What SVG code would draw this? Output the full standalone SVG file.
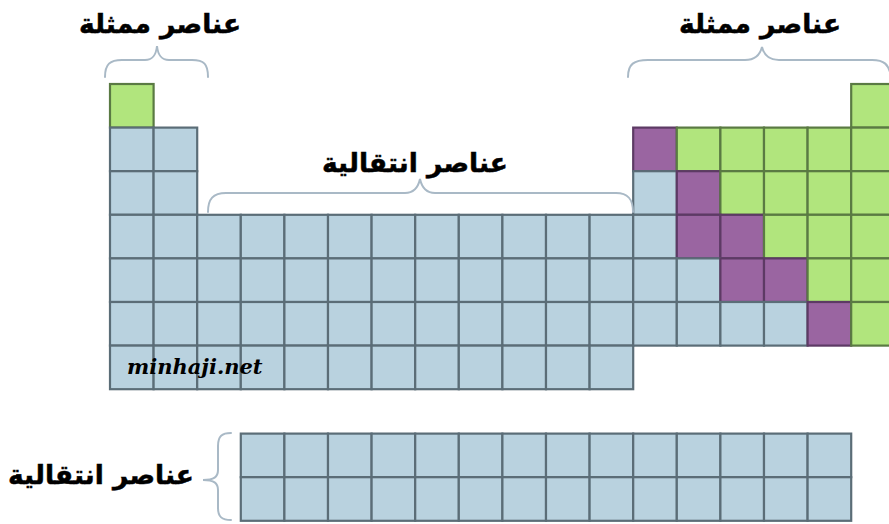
<svg xmlns="http://www.w3.org/2000/svg" width="889" height="524" viewBox="0 0 889 524">
<style>
.b{fill:#b9d2df;stroke:#5b6d77;stroke-width:2.2}
.g{fill:#b1e57d;stroke:#5a7a43;stroke-width:2.2}
.p{fill:#9a65a1;stroke:#5d3a64;stroke-width:2.2}
.br{fill:none;stroke:#a9b9c6;stroke-width:2;stroke-linecap:round}
.ar{font-family:"DejaVu Sans",sans-serif;font-weight:bold;font-size:26.5px;fill:#000;stroke:#000;stroke-width:0.5;text-anchor:middle}
.wm{font-family:"DejaVu Serif",serif;font-style:italic;font-weight:bold;font-size:21px;fill:#000}
</style>
<rect width="889" height="524" fill="#fff"/>
<g id="s-block">
<rect class="g" x="110" y="84" width="43.6" height="43.6"/>
<rect class="b" x="110" y="127.6" width="43.6" height="43.6"/><rect class="b" x="153.6" y="127.6" width="43.6" height="43.6"/>
<rect class="b" x="110" y="171.2" width="43.6" height="43.6"/><rect class="b" x="153.6" y="171.2" width="43.6" height="43.6"/>
<rect class="b" x="110" y="214.8" width="43.6" height="43.6"/><rect class="b" x="153.6" y="214.8" width="43.6" height="43.6"/>
<rect class="b" x="110" y="258.4" width="43.6" height="43.6"/><rect class="b" x="153.6" y="258.4" width="43.6" height="43.6"/>
<rect class="b" x="110" y="302" width="43.6" height="43.6"/><rect class="b" x="153.6" y="302" width="43.6" height="43.6"/>
<rect class="b" x="110" y="345.6" width="43.6" height="43.6"/><rect class="b" x="153.6" y="345.6" width="43.6" height="43.6"/>
</g>
<g id="d-block">
<rect class="b" x="197.2" y="214.8" width="43.6" height="43.6"/><rect class="b" x="240.8" y="214.8" width="43.6" height="43.6"/><rect class="b" x="284.4" y="214.8" width="43.6" height="43.6"/><rect class="b" x="328" y="214.8" width="43.6" height="43.6"/><rect class="b" x="371.6" y="214.8" width="43.6" height="43.6"/><rect class="b" x="415.2" y="214.8" width="43.6" height="43.6"/><rect class="b" x="458.8" y="214.8" width="43.6" height="43.6"/><rect class="b" x="502.4" y="214.8" width="43.6" height="43.6"/><rect class="b" x="546" y="214.8" width="43.6" height="43.6"/><rect class="b" x="589.6" y="214.8" width="43.6" height="43.6"/>
<rect class="b" x="197.2" y="258.4" width="43.6" height="43.6"/><rect class="b" x="240.8" y="258.4" width="43.6" height="43.6"/><rect class="b" x="284.4" y="258.4" width="43.6" height="43.6"/><rect class="b" x="328" y="258.4" width="43.6" height="43.6"/><rect class="b" x="371.6" y="258.4" width="43.6" height="43.6"/><rect class="b" x="415.2" y="258.4" width="43.6" height="43.6"/><rect class="b" x="458.8" y="258.4" width="43.6" height="43.6"/><rect class="b" x="502.4" y="258.4" width="43.6" height="43.6"/><rect class="b" x="546" y="258.4" width="43.6" height="43.6"/><rect class="b" x="589.6" y="258.4" width="43.6" height="43.6"/>
<rect class="b" x="197.2" y="302" width="43.6" height="43.6"/><rect class="b" x="240.8" y="302" width="43.6" height="43.6"/><rect class="b" x="284.4" y="302" width="43.6" height="43.6"/><rect class="b" x="328" y="302" width="43.6" height="43.6"/><rect class="b" x="371.6" y="302" width="43.6" height="43.6"/><rect class="b" x="415.2" y="302" width="43.6" height="43.6"/><rect class="b" x="458.8" y="302" width="43.6" height="43.6"/><rect class="b" x="502.4" y="302" width="43.6" height="43.6"/><rect class="b" x="546" y="302" width="43.6" height="43.6"/><rect class="b" x="589.6" y="302" width="43.6" height="43.6"/>
<rect class="b" x="197.2" y="345.6" width="43.6" height="43.6"/><rect class="b" x="240.8" y="345.6" width="43.6" height="43.6"/><rect class="b" x="284.4" y="345.6" width="43.6" height="43.6"/><rect class="b" x="328" y="345.6" width="43.6" height="43.6"/><rect class="b" x="371.6" y="345.6" width="43.6" height="43.6"/><rect class="b" x="415.2" y="345.6" width="43.6" height="43.6"/><rect class="b" x="458.8" y="345.6" width="43.6" height="43.6"/><rect class="b" x="502.4" y="345.6" width="43.6" height="43.6"/><rect class="b" x="546" y="345.6" width="43.6" height="43.6"/><rect class="b" x="589.6" y="345.6" width="43.6" height="43.6"/>
</g>
<g id="p-block">
<rect class="g" x="851.2" y="84" width="43.6" height="43.6"/>
<rect class="p" x="633.2" y="127.6" width="43.6" height="43.6"/><rect class="g" x="676.8" y="127.6" width="43.6" height="43.6"/><rect class="g" x="720.4" y="127.6" width="43.6" height="43.6"/><rect class="g" x="764" y="127.6" width="43.6" height="43.6"/><rect class="g" x="807.6" y="127.6" width="43.6" height="43.6"/><rect class="g" x="851.2" y="127.6" width="43.6" height="43.6"/>
<rect class="b" x="633.2" y="171.2" width="43.6" height="43.6"/><rect class="p" x="676.8" y="171.2" width="43.6" height="43.6"/><rect class="g" x="720.4" y="171.2" width="43.6" height="43.6"/><rect class="g" x="764" y="171.2" width="43.6" height="43.6"/><rect class="g" x="807.6" y="171.2" width="43.6" height="43.6"/><rect class="g" x="851.2" y="171.2" width="43.6" height="43.6"/>
<rect class="b" x="633.2" y="214.8" width="43.6" height="43.6"/><rect class="p" x="676.8" y="214.8" width="43.6" height="43.6"/><rect class="p" x="720.4" y="214.8" width="43.6" height="43.6"/><rect class="g" x="764" y="214.8" width="43.6" height="43.6"/><rect class="g" x="807.6" y="214.8" width="43.6" height="43.6"/><rect class="g" x="851.2" y="214.8" width="43.6" height="43.6"/>
<rect class="b" x="633.2" y="258.4" width="43.6" height="43.6"/><rect class="b" x="676.8" y="258.4" width="43.6" height="43.6"/><rect class="p" x="720.4" y="258.4" width="43.6" height="43.6"/><rect class="p" x="764" y="258.4" width="43.6" height="43.6"/><rect class="g" x="807.6" y="258.4" width="43.6" height="43.6"/><rect class="g" x="851.2" y="258.4" width="43.6" height="43.6"/>
<rect class="b" x="633.2" y="302" width="43.6" height="43.6"/><rect class="b" x="676.8" y="302" width="43.6" height="43.6"/><rect class="b" x="720.4" y="302" width="43.6" height="43.6"/><rect class="b" x="764" y="302" width="43.6" height="43.6"/><rect class="p" x="807.6" y="302" width="43.6" height="43.6"/><rect class="g" x="851.2" y="302" width="43.6" height="43.6"/>
</g>
<g id="f-block">
<rect class="b" x="240.8" y="433.6" width="43.6" height="43.6"/><rect class="b" x="284.4" y="433.6" width="43.6" height="43.6"/><rect class="b" x="328" y="433.6" width="43.6" height="43.6"/><rect class="b" x="371.6" y="433.6" width="43.6" height="43.6"/><rect class="b" x="415.2" y="433.6" width="43.6" height="43.6"/><rect class="b" x="458.8" y="433.6" width="43.6" height="43.6"/><rect class="b" x="502.4" y="433.6" width="43.6" height="43.6"/><rect class="b" x="546" y="433.6" width="43.6" height="43.6"/><rect class="b" x="589.6" y="433.6" width="43.6" height="43.6"/><rect class="b" x="633.2" y="433.6" width="43.6" height="43.6"/><rect class="b" x="676.8" y="433.6" width="43.6" height="43.6"/><rect class="b" x="720.4" y="433.6" width="43.6" height="43.6"/><rect class="b" x="764" y="433.6" width="43.6" height="43.6"/><rect class="b" x="807.6" y="433.6" width="43.6" height="43.6"/>
<rect class="b" x="240.8" y="477.2" width="43.6" height="43.6"/><rect class="b" x="284.4" y="477.2" width="43.6" height="43.6"/><rect class="b" x="328" y="477.2" width="43.6" height="43.6"/><rect class="b" x="371.6" y="477.2" width="43.6" height="43.6"/><rect class="b" x="415.2" y="477.2" width="43.6" height="43.6"/><rect class="b" x="458.8" y="477.2" width="43.6" height="43.6"/><rect class="b" x="502.4" y="477.2" width="43.6" height="43.6"/><rect class="b" x="546" y="477.2" width="43.6" height="43.6"/><rect class="b" x="589.6" y="477.2" width="43.6" height="43.6"/><rect class="b" x="633.2" y="477.2" width="43.6" height="43.6"/><rect class="b" x="676.8" y="477.2" width="43.6" height="43.6"/><rect class="b" x="720.4" y="477.2" width="43.6" height="43.6"/><rect class="b" x="764" y="477.2" width="43.6" height="43.6"/><rect class="b" x="807.6" y="477.2" width="43.6" height="43.6"/>
</g>
<g id="braces">
<path class="br" d="M105,77 C105,64 110,60 122,60 L145,60 C153,60 156,55 157,46 C158,55 161,60 169,60 L192,60 C204,60 208,64 208,77"/>
<path class="br" d="M628,77 C628,64 634,60 648,60 L745,60 C755,60 760,55 762,47 C764,55 769,60 779,60 L872,60 C884,60 889,64 891,77"/>
<path class="br" d="M208,212 C208,199 213,193 226,193 L405,193 C414,193 418,188 420,179 C422,188 426,193 435,193 L616,193 C628,193 633,199 633,212"/>
<path class="br" d="M231,433 C222,433 218,436 218,446 L218,470 C218,477 214,480 203,480 C214,480 218,483 218,490 L218,508 C218,517 222,520 231,520"/>
</g>
<g id="labels">
<text class="ar" x="160" y="33">عناصر ممثلة</text>
<text class="ar" x="760" y="33">عناصر ممثلة</text>
<text class="ar" x="415" y="172">عناصر انتقالية</text>
<text class="ar" x="101" y="484">عناصر انتقالية</text>
<text class="wm" x="127" y="374">minhaji.net</text>
</g>
</svg>
